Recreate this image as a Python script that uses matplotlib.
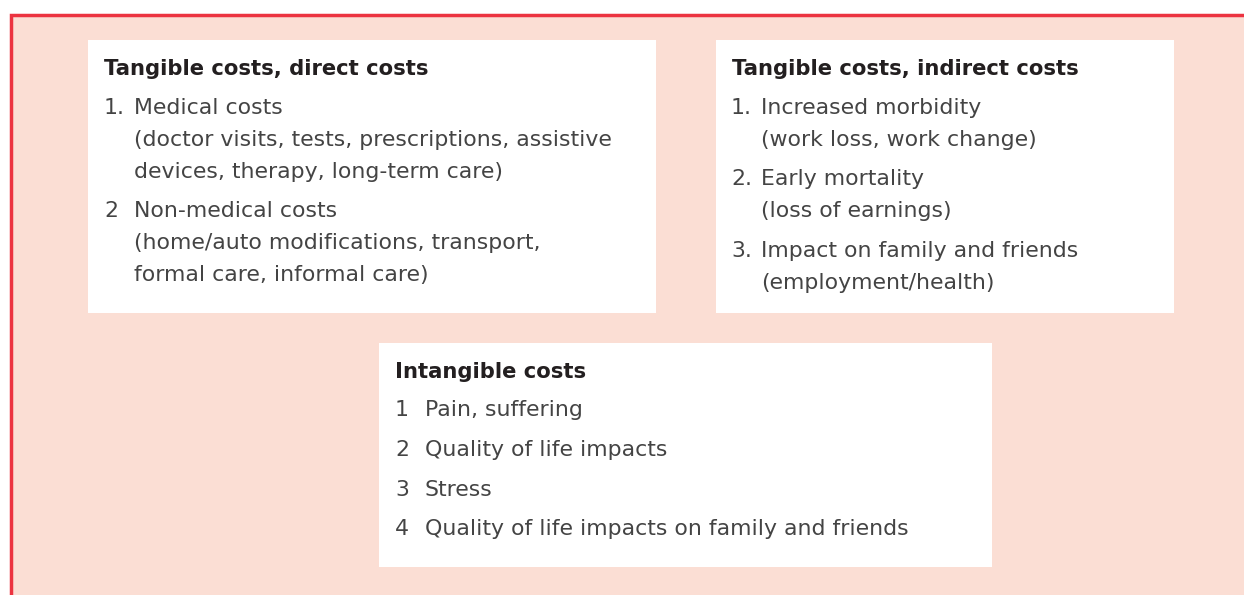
import matplotlib.pyplot as plt
from matplotlib.patches import Rectangle

# box contents
direct_title = "Tangible costs, direct costs"
direct_nums = ["1.", "", "", "2", "", ""]
direct_lines = ["Medical costs",
                "(doctor visits, tests, prescriptions, assistive",
                "devices, therapy, long-term care)",
                "Non-medical costs",
                "(home/auto modifications, transport,",
                "formal care, informal care)"]
direct_y = [114, 146, 178, 217, 249, 281]

indirect_title = "Tangible costs, indirect costs"
indirect_nums = ["1.", "", "2.", "", "3.", ""]
indirect_lines = ["Increased morbidity",
                  "(work loss, work change)",
                  "Early mortality",
                  "(loss of earnings)",
                  "Impact on family and friends",
                  "(employment/health)"]
indirect_y = [114, 146, 185, 217, 257, 289]

intangible_title = "Intangible costs"
intangible_nums = ["1", "2", "3", "4"]
intangible_lines = ["Pain, suffering",
                    "Quality of life impacts",
                    "Stress",
                    "Quality of life impacts on family and friends"]
intangible_y = [416, 456, 496, 535]

W, H = 1244, 595
fig = plt.figure(figsize=(W / 100, H / 100), dpi=100)
ax = fig.add_axes([0, 0, 1, 1])
ax.set_xlim(0, W)
ax.set_ylim(H, 0)
ax.axis('off')

# outer panel
ax.add_patch(Rectangle((11, 15), W + 20, H, facecolor='#fbded4',
                       edgecolor='#ec3340', linewidth=2.5))

body_font = 'DejaVu Sans'
head_color = '#231f20'
body_color = '#444444'


def draw_box(x0, y0, x1, y1, title, nums, lines, ys, tx, numx, head_y):
    ax.add_patch(Rectangle((x0, y0), x1 - x0, y1 - y0, facecolor='white',
                           edgecolor='none'))
    ax.text(tx, head_y, title, family=body_font, fontweight='bold',
            fontsize=15.2, color=head_color, va='baseline', ha='left')
    for n, t, y in zip(nums, lines, ys):
        if n:
            ax.text(numx, y, n, family=body_font, fontsize=15.8,
                    color=body_color, va='baseline', ha='left')
        ax.text(numx + 30, y, t, family=body_font, fontsize=15.8,
                color=body_color, va='baseline', ha='left')


draw_box(88, 40, 656, 313, direct_title, direct_nums, direct_lines,
         direct_y, 104, 104, 75)
draw_box(716, 40, 1174, 313, indirect_title, indirect_nums, indirect_lines,
         indirect_y, 732, 731, 75)
draw_box(379, 343, 992, 567, intangible_title, intangible_nums,
         intangible_lines, intangible_y, 395, 395, 378)

plt.savefig('out.png', dpi=100)
